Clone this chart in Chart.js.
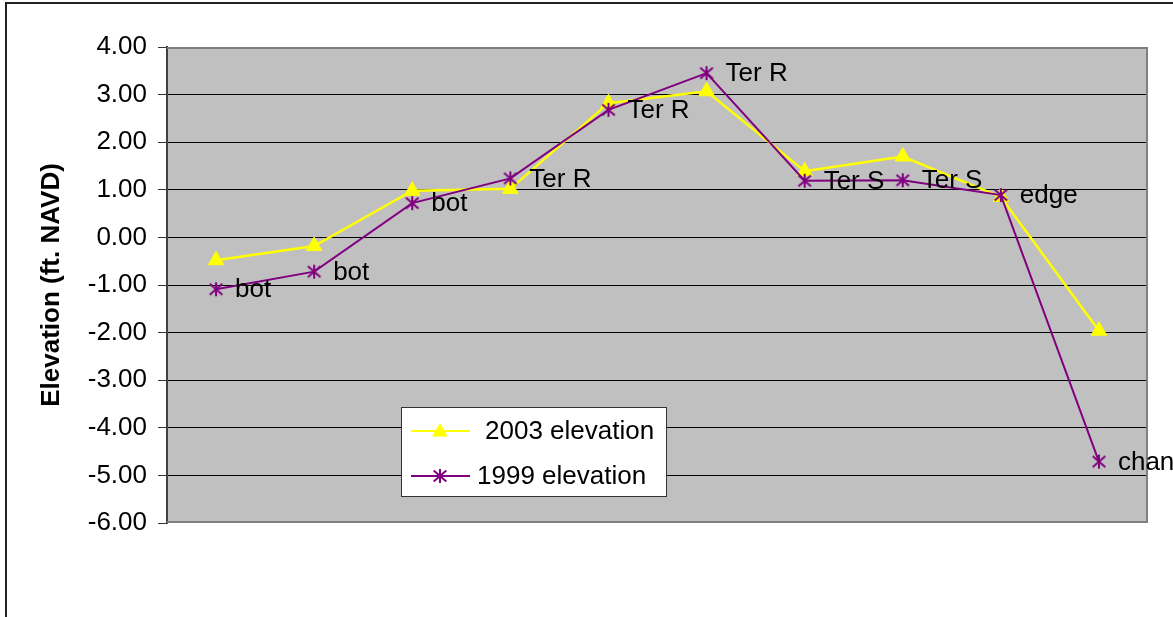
<!DOCTYPE html>
<html>
<head>
<meta charset="utf-8">
<script src="https://cdn.jsdelivr.net/npm/chart.js@4/dist/chart.umd.min.js"></script>
<style>
  html, body { margin: 0; padding: 0; background: #ffffff; }
  canvas { display: block; }
</style>
</head>
<body>
<canvas id="c" width="1173" height="617"></canvas>
<script>
// Survey stations along the transect
const stations = ['1', '2', '3', '4', '5', '6', '7', '8', '9', '10'];
// Ground elevation (ft. NAVD) at each station
const elev2003 = [-0.48, -0.18, 0.98, 1.02, 2.82, 3.07, 1.39, 1.70, 0.85, -1.96];
const elev1999 = [-1.09, -0.72, 0.72, 1.24, 2.68, 3.45, 1.19, 1.20, 0.89, -4.71];
// Feature notes at the 1999 points
const pointNotes = ['bot', 'bot', 'bot', 'Ter R', 'Ter R', 'Ter R', 'Ter S', 'Ter S', 'edge', 'chan'];
// Value axis range
const yMin = -6, yMax = 4, yStep = 1;
const seriesNames = ['2003 elevation', '1999 elevation'];

const FONT = "'Liberation Sans', Arial, sans-serif";
const YELLOW = '#FFFF00';
const PURPLE = '#800080';

// Asterisk marker: an X with a vertical bar
function starMarker(color, r) {
  const s = 2 * r + 4;
  const c = document.createElement('canvas');
  c.width = s; c.height = s;
  const g = c.getContext('2d');
  const m = s / 2;
  g.strokeStyle = color;
  g.lineWidth = 2;
  g.beginPath();
  g.moveTo(m - r * 0.9, m - r * 0.8); g.lineTo(m + r * 0.9, m + r * 0.8);
  g.moveTo(m + r * 0.9, m - r * 0.8); g.lineTo(m - r * 0.9, m + r * 0.8);
  g.moveTo(m, m - r); g.lineTo(m, m + r);
  g.stroke();
  return c;
}
const starImg = starMarker(PURPLE, 7);

function trianglePath(ctx, x, y, r) {
  const TWO_THIRDS_PI = Math.PI * 2 / 3;
  let a = 0;
  ctx.beginPath();
  ctx.moveTo(x + Math.sin(a) * r, y - Math.cos(a) * r);
  a += TWO_THIRDS_PI;
  ctx.lineTo(x + Math.sin(a) * r, y - Math.cos(a) * r);
  a += TWO_THIRDS_PI;
  ctx.lineTo(x + Math.sin(a) * r, y - Math.cos(a) * r);
  ctx.closePath();
}

// Page frame and the grey plot background with its border
const framePlugin = {
  id: 'frame',
  beforeDraw(chart) {
    const ctx = chart.ctx;
    const a = chart.chartArea;
    ctx.save();
    ctx.fillStyle = '#ffffff';
    ctx.fillRect(0, 0, chart.width, chart.height);
    ctx.fillStyle = '#222222';
    ctx.fillRect(5, 2, chart.width - 5, 2);
    ctx.fillRect(5, 2, 2, chart.height - 2);
    ctx.fillStyle = '#C0C0C0';
    ctx.fillRect(a.left, a.top, a.right - a.left, a.bottom - a.top);
    ctx.restore();
  },
  beforeDatasetsDraw(chart) {
    const ctx = chart.ctx;
    const a = chart.chartArea;
    ctx.save();
    ctx.strokeStyle = '#808080';
    ctx.lineWidth = 2;
    ctx.beginPath();
    ctx.moveTo(a.left, a.top + 1); ctx.lineTo(a.right - 1, a.top + 1);
    ctx.lineTo(a.right - 1, a.bottom - 1); ctx.lineTo(a.left, a.bottom - 1);
    ctx.stroke();
    ctx.restore();
  }
};

// Notes written beside the 1999 points
const notesPlugin = {
  id: 'notes',
  afterDatasetsDraw(chart) {
    const meta = chart.getDatasetMeta(1);
    const ctx = chart.ctx;
    ctx.save();
    ctx.fillStyle = '#000000';
    ctx.font = '26px ' + FONT;
    ctx.textAlign = 'left';
    ctx.textBaseline = 'middle';
    meta.data.forEach((pt, i) => {
      ctx.fillText(pointNotes[i], pt.x + 19, pt.y + 1);
    });
    ctx.restore();
  }
};

// Boxed legend inside the plot
const legendBoxPlugin = {
  id: 'legendBox',
  afterDraw(chart) {
    const ctx = chart.ctx;
    const x0 = 401, y0 = 407, w = 265, h = 89;
    ctx.save();
    ctx.fillStyle = '#ffffff';
    ctx.fillRect(x0, y0, w, h);
    ctx.strokeStyle = '#333333';
    ctx.lineWidth = 1;
    ctx.strokeRect(x0 + 0.5, y0 + 0.5, w, h);
    const rows = [
      { y: 431, color: YELLOW, tx: 485, kind: 'tri' },
      { y: 476, color: PURPLE, tx: 477, kind: 'star' }
    ];
    ctx.font = '26px ' + FONT;
    ctx.textBaseline = 'middle';
    ctx.textAlign = 'left';
    rows.forEach((r, i) => {
      ctx.strokeStyle = r.color;
      ctx.lineWidth = 2;
      ctx.beginPath();
      ctx.moveTo(411, r.y); ctx.lineTo(470, r.y);
      ctx.stroke();
      if (r.kind === 'tri') {
        ctx.fillStyle = r.color;
        trianglePath(ctx, 440, r.y + 1, 9);
        ctx.fill();
      } else {
        ctx.drawImage(starImg, 440 - starImg.width / 2, r.y - starImg.height / 2);
      }
      ctx.fillStyle = '#000000';
      ctx.fillText(chart.data.datasets[i].label, r.tx, r.y + 1);
    });
    ctx.restore();
  }
};

new Chart(document.getElementById('c'), {
  type: 'line',
  data: {
    labels: stations,
    datasets: [
      {
        label: seriesNames[0],
        data: elev2003,
        borderColor: YELLOW,
        backgroundColor: YELLOW,
        borderWidth: 2.5,
        pointStyle: 'triangle',
        pointRadius: 9,
        pointBorderWidth: 1,
        pointBorderColor: YELLOW,
        pointBackgroundColor: YELLOW,
        tension: 0,
        order: 1
      },
      {
        label: seriesNames[1],
        data: elev1999,
        borderColor: PURPLE,
        backgroundColor: PURPLE,
        borderWidth: 2,
        pointStyle: starImg,
        pointRadius: 7,
        tension: 0,
        order: 0
      }
    ]
  },
  options: {
    responsive: false,
    animation: false,
    devicePixelRatio: 1,
    layout: { padding: { left: 0, top: 47, right: 25, bottom: 94 } },
    plugins: {
      legend: { display: false },
      tooltip: { enabled: false }
    },
    scales: {
      x: {
        type: 'category',
        offset: true,
        display: false
      },
      y: {
        min: yMin,
        max: yMax,
        afterFit(scale) { scale.width = 167; },
        ticks: {
          stepSize: yStep,
          padding: 11,
          color: '#000000',
          font: { family: FONT, size: 26 },
          callback: (v) => Number(v).toFixed(2)
        },
        grid: {
          color: (c) => (c.tick && (c.tick.value === yMax || c.tick.value === yMin)) ? 'rgba(0,0,0,0)' : '#000000',
          tickColor: '#333333',
          tickLength: 9,
          lineWidth: 1
        },
        border: { display: true, color: '#404040', width: 2 },
        title: {
          display: true,
          text: 'Elevation (ft. NAVD)',
          color: '#000000',
          font: { family: FONT, size: 26, weight: 'bold' },
          padding: { top: 36, bottom: 0 }
        }
      }
    }
  },
  plugins: [framePlugin, notesPlugin, legendBoxPlugin]
});
</script>
</body>
</html>
